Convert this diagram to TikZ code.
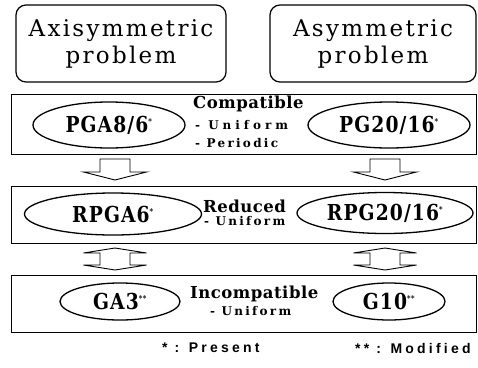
\documentclass[tikz,border=0pt]{standalone}
\usepackage{fontspec}
\usetikzlibrary{shapes.geometric}
\newfontfamily\titlefont[LetterSpace=10]{DejaVu Serif}
\newfontfamily\schemefont[FakeStretch=0.85,LetterSpace=5]{DejaVu Serif Bold}
\newfontfamily\kindfont[LetterSpace=3]{DejaVu Serif Bold}
\newfontfamily\notefont[LetterSpace=19]{DejaVu Serif Bold}
\newfontfamily\widenotefont[LetterSpace=33]{DejaVu Serif Bold}
\newfontfamily\legendfont[LetterSpace=23]{Liberation Sans Bold}

\tikzset{
  problembox/.style={draw, line width=1.2pt, rounded corners=10pt, inner sep=0pt,
    align=center, font=\titlefont\fontsize{23}{27}\selectfont},
  panel/.style={draw, line width=0.8pt, inner sep=0pt, minimum width=465pt},
  scheme/.style={draw, ellipse, line width=1.3pt, inner sep=0pt,
    font=\schemefont\fontsize{22}{24}\selectfont},
  kind/.style={anchor=west, inner sep=0pt, font=\kindfont\fontsize{16.5}{18}\selectfont},
  note/.style={anchor=west, inner sep=0pt, font=\notefont\fontsize{12}{13}\selectfont},
  widenote/.style={note, font=\widenotefont\fontsize{12}{13}\selectfont},
  legend/.style={anchor=west, inner sep=0pt, font=\legendfont\fontsize{14}{15}\selectfont},
  arrline/.style={draw, line width=0.9pt, fill=white, line join=miter},
  downarrow/.pic={\path[arrline] (-15,0) -- (15,0) -- (15,13) -- (31.5,13) -- (0,21)
      -- (-31.5,13) -- (-15,13) -- cycle;},
  bothways/.pic={\path[arrline] (0,0) -- (31.5,5) -- (15,5) -- (15,17) -- (31.5,17)
      -- (0,22) -- (-31.5,17) -- (-15,17) -- (-15,5) -- (-31.5,5) -- cycle;}
}
\newcommand{\mk}[1]{\textsuperscript{\fontsize{8}{8}\selectfont #1}}

\begin{document}
\begin{tikzpicture}[x=1pt,y=-1pt]
\useasboundingbox (0,0) rectangle (478,367);

% problem classes
\node[problembox, minimum width=210pt, minimum height=77pt] (axi) at (121,43.5)
  {Axisymmetric\\problem};
\node[problembox, minimum width=206pt, minimum height=77pt] (asy) at (373,43.5)
  {Asymmetric\\problem};

% three element families
\node[panel, minimum height=60pt] (p1) at (243.5,124) {};
\node[panel, minimum height=57pt] (p2) at (243.5,214.5) {};
\node[panel, minimum height=57pt] (p3) at (243.5,303.5) {};

% compatible elements
\node[scheme, minimum width=152pt, minimum height=46pt] (pga) at (109,125) {PGA8/6\mk{*}};
\node[scheme, minimum width=162pt, minimum height=46pt] (pg) at (389,125) {PG20/16\mk{*}};
\node[kind] (comp) at (193,104) {Compatible};
\node[widenote] (cu) at (195,125) {- Uniform};
\node[note] (cp) at (195,143) {- Periodic};

% reduced elements
\node[scheme, minimum width=177pt, minimum height=42pt] (rpga) at (113,214) {RPGA6\mk{*}};
\node[scheme, minimum width=176pt, minimum height=41pt] (rpg) at (385,213) {RPG20/16\mk{*}};
\node[kind] (red) at (203,206) {Reduced};
\node[note] (ru) at (204,221) {- Uniform};

% incompatible elements
\node[scheme, minimum width=120pt, minimum height=37pt] (ga) at (120,301.5) {GA3\mk{**}};
\node[scheme, minimum width=112pt, minimum height=37pt] (g) at (389,301.5) {G10\mk{**}};
\node[kind] (inc) at (190,294) {Incompatible};
\node[note] (iu) at (210,311) {- Uniform};

% transitions between families
\pic at (115,159) {downarrow};
\pic at (385,159) {downarrow};
\pic at (115,248) {bothways};
\pic at (385,248) {bothways};

% legend
\node[legend] (l1) at (162,348) {* : Present};
\node[legend] (l2) at (355,348) {** : Modified};
\end{tikzpicture}
\end{document}
